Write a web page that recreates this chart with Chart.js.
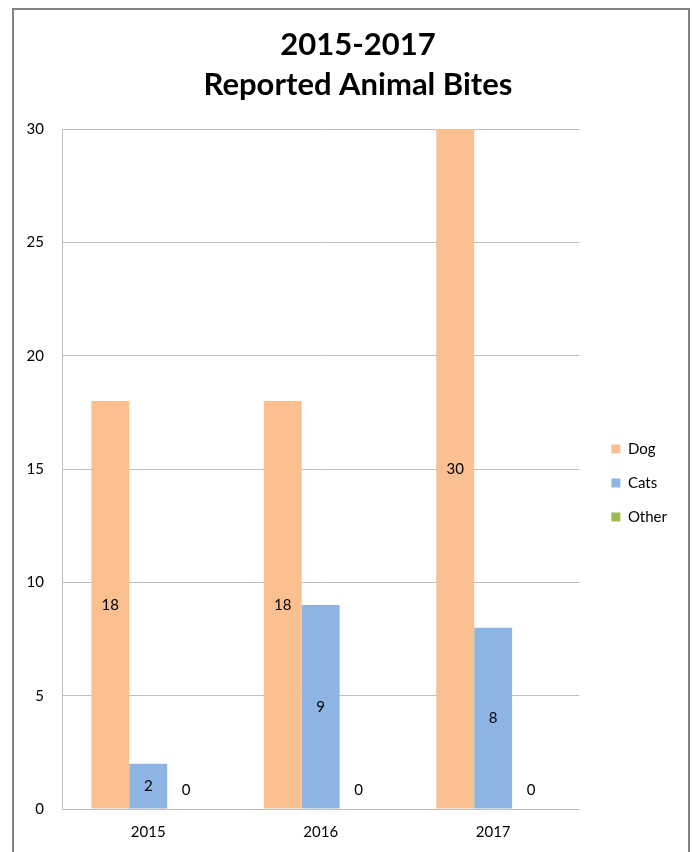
<!DOCTYPE html>
<html>
<head>
<meta charset="utf-8">
<script src="https://cdn.jsdelivr.net/npm/chart.js@4"></script>
<style>
  html, body { margin: 0; padding: 0; background: #ffffff; width: 692px; height: 852px; overflow: hidden; }
  #frame { position: absolute; left: 12px; top: 8px; width: 678px; height: 900px; border: 2px solid #808080; box-sizing: border-box; }
  #c { position: absolute; left: 0; top: 0; }
</style>
</head>
<body>
<div id="frame"></div>
<canvas id="c" width="692" height="852"></canvas>
<script>
const categories = ['2015', '2016', '2017'];
const dogValues = [18, 18, 30];
const catValues = [2, 9, 8];
const otherValues = [0, 0, 0];
const seriesNames = ['Dog', 'Cats', 'Other'];
const yTicks = [0, 5, 10, 15, 20, 25, 30];
const titleLines = ['2015-2017', 'Reported Animal Bites'];

const FONT = 'Lato, "Open Sans", "Liberation Sans", sans-serif';

const valueLabels = {
  id: 'valueLabels',
  afterDatasetsDraw(chart) {
    const ctx = chart.ctx;
    ctx.save();
    ctx.font = '15px ' + FONT;
    ctx.fillStyle = '#000000';
    ctx.textAlign = 'center';
    ctx.textBaseline = 'middle';
    chart.data.datasets.forEach((ds, i) => {
      const meta = chart.getDatasetMeta(i);
      meta.data.forEach((bar, j) => {
        const v = ds.data[j];
        const p = bar.getProps(['x', 'y', 'base'], true);
        const ty = v === 0 ? p.base - 19 : (p.y + p.base) / 2;
        ctx.fillText(String(v), p.x, ty);
      });
    });
    ctx.restore();
  }
};

// shift the title's centring box to match the reference's title position
const titleShift = {
  id: 'titleShift',
  afterLayout(chart) {
    if (chart.titleBlock) { chart.titleBlock.left += 12; }
  }
};

new Chart(document.getElementById('c'), {
  type: 'bar',
  data: {
    labels: categories,
    datasets: [
      { label: seriesNames[0], data: dogValues, backgroundColor: '#FAC090' },
      { label: seriesNames[1], data: catValues, backgroundColor: '#8EB4E3' },
      { label: seriesNames[2], data: otherValues, backgroundColor: '#9BBB59' }
    ]
  },
  options: {
    responsive: false,
    animation: false,
    devicePixelRatio: 1,
    layout: { padding: { left: 27, right: 15, top: 0, bottom: 11 } },
    datasets: { bar: { categoryPercentage: 0.66, barPercentage: 1.0 } },
    plugins: {
      title: {
        display: true,
        text: titleLines,
        color: '#000000',
        font: { family: FONT, size: 31, weight: 'bold', lineHeight: 40 / 31 },
        padding: { top: 25, bottom: 24 }
      },
      legend: {
        display: true,
        position: 'right',
        fullSize: false,
        align: 'center',
        title: { display: true, text: ' ', font: { size: 10, lineHeight: 1.2 }, padding: 8 },
        labels: {
          boxWidth: 9,
          boxHeight: 9,
          padding: 19,
          color: '#000000',
          font: { family: FONT, size: 15 }
        }
      },
      tooltip: { enabled: false }
    },
    scales: {
      x: {
        afterFit(scale) { scale.height = 32; },
        grid: { display: false, drawTicks: false },
        border: { display: false },
        ticks: { color: '#000000', padding: 14, font: { family: FONT, size: 15 } }
      },
      y: {
        min: 0,
        max: 30,
        afterBuildTicks(scale) { scale.ticks = yTicks.map(v => ({ value: v })); },
        afterFit(scale) { scale.width = 35; },
        grid: { color: '#bfbfbf', lineWidth: 1, drawTicks: false },
        border: { display: true, color: '#bfbfbf', width: 1 },
        ticks: { color: '#000000', padding: 18, font: { family: FONT, size: 15 } }
      },
      y2: {
        position: 'right',
        display: true,
        grid: { display: false, drawTicks: false },
        border: { display: false },
        ticks: { display: false },
        afterFit(scale) { scale.width = 13; }
      }
    }
  },
  plugins: [valueLabels, titleShift]
});
</script>
</body>
</html>
